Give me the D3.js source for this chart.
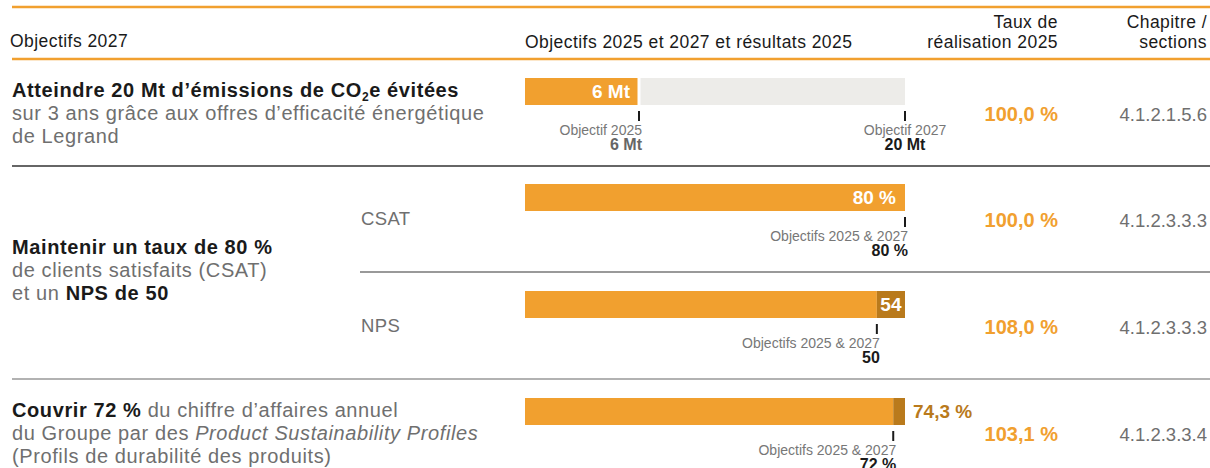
<!doctype html>
<html lang="fr">
<head>
<meta charset="utf-8">
<title>Objectifs 2027</title>
<script src="https://cdn.jsdelivr.net/npm/d3@7"></script>
<style>
  body { margin: 0; background: #fff; }
  svg { font-family: "Liberation Sans", Arial, sans-serif; display: block; }
  .grey { fill: #6f6f6f; }
  .dark { fill: #1a1a1a; }
  .bold { font-weight: bold; }
</style>
</head>
<body>
<div id="chart"></div>
<script>
// --- data ---
const rowKeys      = ['co2', 'csat', 'nps', 'psp'];
const subLabels    = ['', 'CSAT', 'NPS', ''];
const results2025  = [6, 80, 54, 74.3];
const targets2025  = [6, 80, 50, 72];
const targets2027  = [20, 80, 50, 72];
const resultText   = ['6 Mt', '80 %', '54', '74,3 %'];
const target25Text = ['6 Mt', '80 %', '50', '72 %'];
const target27Text = ['20 Mt', '80 %', '50', '72 %'];
const tauxText     = ['100,0 %', '100,0 %', '108,0 %', '103,1 %'];
const chapitres    = ['4.1.2.1.5.6', '4.1.2.3.3.3', '4.1.2.3.3.3', '4.1.2.3.3.4'];
const headers      = ['Objectifs 2027', 'Objectifs 2025 et 2027 et résultats 2025', ['Taux de', 'réalisation 2025'], ['Chapitre /', 'sections']];

// objective descriptions: each line is a list of [text, style] runs
const objectives = [
  [[['Atteindre 20 Mt d’émissions de CO', 'b'], ['2', 'bsub'], ['e évitées', 'b']],
   [['sur 3 ans grâce aux offres d’efficacité énergétique', 'g']],
   [['de Legrand', 'g']]],
  [[['Maintenir un taux de 80 %', 'b']],
   [['de clients satisfaits (CSAT)', 'g']],
   [['et un ', 'g'], ['NPS de 50', 'b']]],
  [[['Couvrir 72 %', 'b'], [' du chiffre d’affaires annuel', 'g']],
   [['du Groupe par des ', 'g'], ['Product Sustainability Profiles', 'gi']],
   [['(Profils de durabilité des produits)', 'g']]]
];

const W = 1210, H = 468;
const orange = '#f1a02f', darkOrange = '#b97a1c', track = '#edece9';
const barX0 = 525, barX1 = 905, barH = 27;
const tauxX = 1058, chapX = 1207;
const barTop = { co2: 78, csat: 184, nps: 291, psp: 398 };
const objTop = [97, 254, 417];

const svg = d3.select('#chart').append('svg')
    .attr('width', W).attr('height', H);

// --- header ---
svg.append('line').attr('x1', 12).attr('x2', W).attr('y1', 7).attr('y2', 7)
    .attr('stroke', orange).attr('stroke-width', 2.5);
svg.append('line').attr('x1', 12).attr('x2', W).attr('y1', 59).attr('y2', 59)
    .attr('stroke', orange).attr('stroke-width', 2.5);

const hdr = svg.append('g').style('font-size', '17.5px').style('letter-spacing', '0.45px')
    .attr('fill', '#1a1a1a');
hdr.append('text').attr('x', 10).attr('y', 47).text(headers[0]);
hdr.append('text').attr('x', 525).attr('y', 48).text(headers[1]);
[[headers[2], tauxX], [headers[3], chapX]].forEach(([lines, x]) => {
  const t = hdr.append('text').attr('text-anchor', 'end');
  lines.forEach((l, i) => t.append('tspan').attr('x', x).attr('y', 28 + i * 20).text(l));
});

// --- separators ---
const seps = [[12, 166, '#333', 1.5], [360, 272, '#777', 1.5], [12, 379, '#999', 1.5]];
svg.selectAll('line.sep').data(seps).join('line').attr('class', 'sep')
    .attr('x1', d => d[0]).attr('x2', W).attr('y1', d => d[1]).attr('y2', d => d[1])
    .attr('stroke', d => d[2]).attr('stroke-width', d => d[3]);

// --- objectives text ---
objectives.forEach((lines, i) => {
  const t = svg.append('text').style('font-size', '20px').style('letter-spacing', '0.6px');
  lines.forEach((runs, j) => {
    runs.forEach(([txt, st], k) => {
      const sp = t.append('tspan').text(txt);
      if (k === 0) sp.attr('x', 12).attr('y', objTop[i] + j * 23);
      if (st[0] === 'b') sp.attr('class', 'dark bold');
      else sp.attr('class', 'grey');
      if (st === 'gi') sp.style('font-style', 'italic');
      if (st === 'bsub') sp.style('font-size', '12px').attr('dy', 4);
      else if (k > 0 && runs[k - 1][1] === 'bsub') sp.attr('dy', -4);
    });
  });
});

// --- rows ---
rowKeys.forEach((key, i) => {
  const top = barTop[key];
  const x = d3.scaleLinear()
      .domain([0, Math.max(results2025[i], targets2027[i])])
      .range([barX0, barX1]);
  const g = svg.append('g');
  const res = results2025[i], t25 = targets2025[i], t27 = targets2027[i];

  if (subLabels[i]) {
    g.append('text').attr('x', 361).attr('y', top + 41)
        .attr('class', 'grey').style('font-size', '18.5px').style('letter-spacing', '0.4px')
        .text(subLabels[i]);
  }

  // bar segments
  if (res < t27) {
    g.append('rect').attr('x', x(res) + 1.5).attr('y', top)
        .attr('width', x(t27) - x(res) - 1.5).attr('height', barH).attr('fill', track);
    g.append('rect').attr('x', x(0)).attr('y', top)
        .attr('width', x(res) - x(0) - 1.5).attr('height', barH).attr('fill', orange);
  } else {
    g.append('rect').attr('x', x(0)).attr('y', top)
        .attr('width', x(t27) - x(0)).attr('height', barH).attr('fill', orange);
    if (res > t27) {
      g.append('rect').attr('x', x(t27)).attr('y', top)
          .attr('width', x(res) - x(t27)).attr('height', barH).attr('fill', darkOrange);
    }
  }

  // result label
  const lbl = g.append('text').attr('y', top + barH / 2 + 6.5)
      .attr('class', 'bold').style('font-size', '19px').text(resultText[i]);
  const lw = lbl.node().getComputedTextLength();
  const extra = x(res) - x(Math.min(res, t27));
  if (extra > lw + 4) {
    lbl.attr('x', (x(t27) + x(res)) / 2).attr('text-anchor', 'middle').attr('fill', '#fff');
  } else if (extra > 0) {
    lbl.attr('x', x(res) + 8).attr('fill', darkOrange);
  } else {
    lbl.attr('x', x(res) - 9).attr('text-anchor', 'end').attr('fill', '#fff');
  }

  // target ticks
  const ticks = t25 === t27
      ? [{ v: t25, label: 'Objectifs 2025 & 2027', val: target27Text[i], anchor: 'end', col: '#1a1a1a' }]
      : [{ v: t25, label: 'Objectif 2025', val: target25Text[i], anchor: 'end', col: '#666' },
         { v: t27, label: 'Objectif 2027', val: target27Text[i], anchor: 'middle', col: '#1a1a1a' }];
  ticks.forEach(tk => {
    const tx = x(tk.v);
    g.append('line').attr('x1', tx).attr('x2', tx).attr('y1', top + 33).attr('y2', top + 43)
        .attr('stroke', '#1a1a1a').attr('stroke-width', 2);
    const lx = tk.anchor === 'end' ? tx + 3 : tx;
    const t = g.append('text').attr('text-anchor', tk.anchor);
    t.append('tspan').attr('x', lx).attr('y', top + 56.5).attr('fill', '#777')
        .style('font-size', '14px').text(tk.label);
    t.append('tspan').attr('x', lx).attr('y', top + 72).attr('fill', tk.col)
        .style('font-size', '16px').attr('class', 'bold').text(tk.val);
  });

  // taux + chapitre
  g.append('text').attr('x', tauxX).attr('y', top + 43).attr('text-anchor', 'end')
      .attr('fill', orange).attr('class', 'bold').style('font-size', '20px').text(tauxText[i]);
  g.append('text').attr('x', chapX).attr('y', top + 43).attr('text-anchor', 'end')
      .attr('class', 'grey').style('font-size', '18.5px').text(chapitres[i]);
});
</script>
</body>
</html>
